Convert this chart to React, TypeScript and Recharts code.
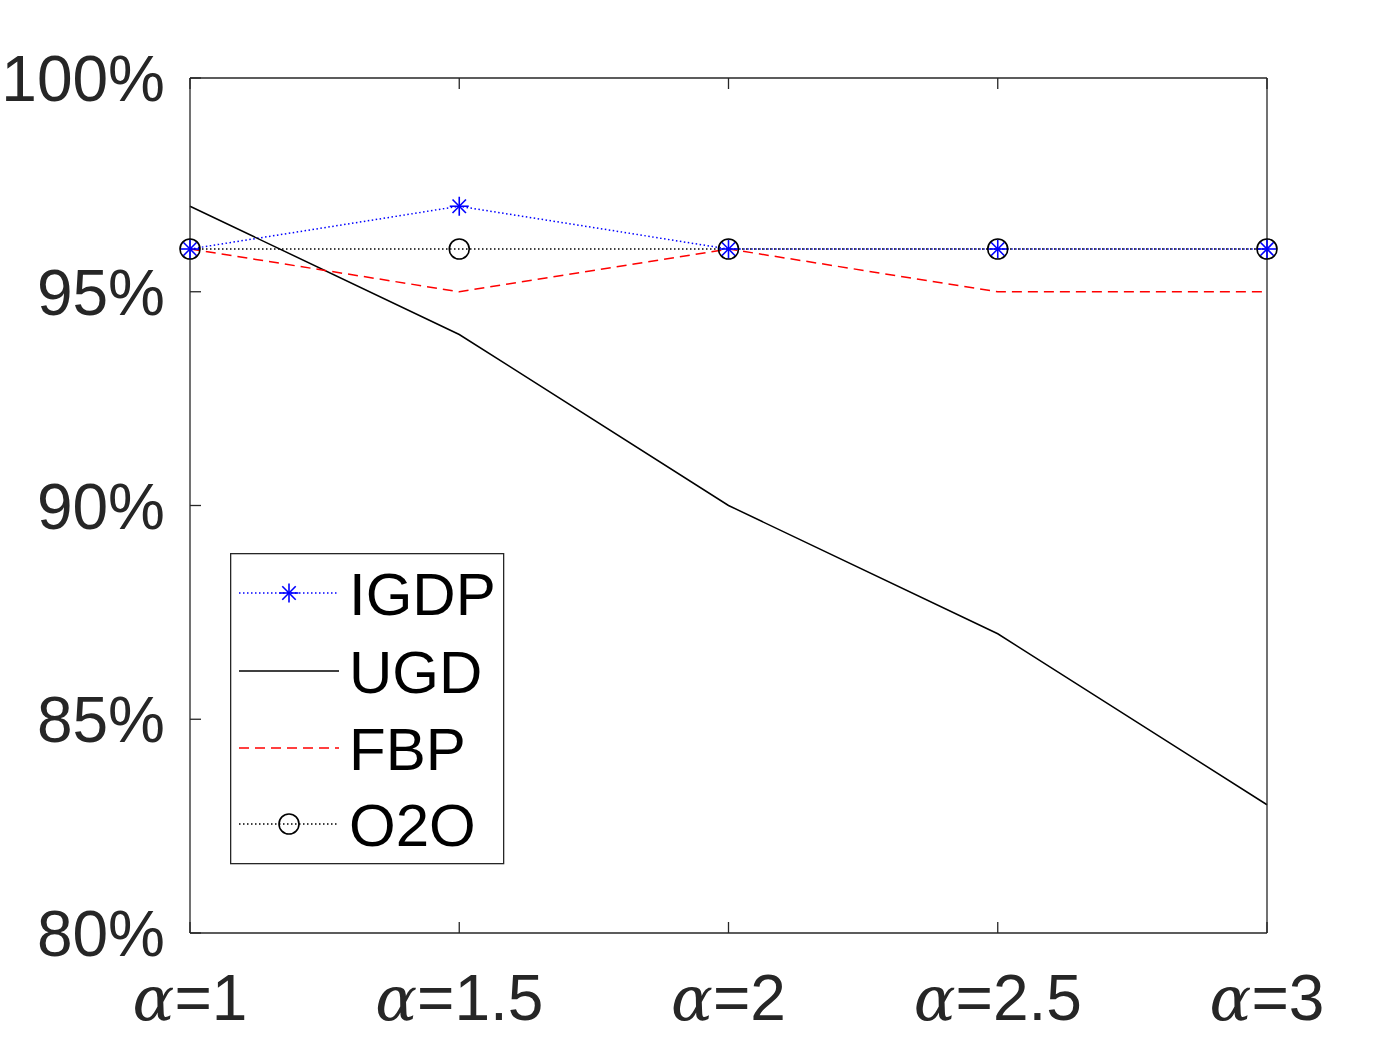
import React from 'react';
import { LineChart, Line, XAxis, YAxis, Legend } from 'recharts';

const categories = ['1', '1.5', '2', '2.5', '3'];
const igdpValues = [96, 97, 96, 96, 96];
const ugdValues = [97, 94, 90, 87, 83];
const fbpValues = [96, 95, 96, 95, 95];
const o2oValues = [96, 96, 96, 96, 96];
const yTicks = [80, 85, 90, 95, 100];
const seriesNames = ['IGDP', 'UGD', 'FBP', 'O2O'];

const data = categories.map((c, i) => ({
  alpha: c,
  IGDP: igdpValues[i],
  UGD: ugdValues[i],
  FBP: fbpValues[i],
  O2O: o2oValues[i],
}));

const AXIS = '#262626';
const SANS = '"Liberation Sans", Arial, sans-serif';
const SERIF = '"DejaVu Serif", "Liberation Serif", serif';
const TICK_LEN = 11;

type Style = { color: string; dash?: string; marker?: 'star' | 'circle' };
const styles: Record<string, Style> = {
  IGDP: { color: '#0000ff', dash: '1.5 2.5', marker: 'star' },
  UGD: { color: '#000000' },
  FBP: { color: '#ff0000', dash: '10 6' },
  O2O: { color: '#000000', dash: '1.5 2.5', marker: 'circle' },
};

const Star = ({ cx, cy, color }: { cx: number; cy: number; color: string }) => {
  const r = 9.5;
  const d = r * 0.7071;
  return (
    <g stroke={color} strokeWidth={1.6}>
      <line x1={cx - r} y1={cy} x2={cx + r} y2={cy} />
      <line x1={cx} y1={cy - r} x2={cx} y2={cy + r} />
      <line x1={cx - d} y1={cy - d} x2={cx + d} y2={cy + d} />
      <line x1={cx - d} y1={cy + d} x2={cx + d} y2={cy - d} />
    </g>
  );
};

const Circle = ({ cx, cy, color }: { cx: number; cy: number; color: string }) => (
  <circle cx={cx} cy={cy} r={10} fill="none" stroke={color} strokeWidth={1.6} />
);

const makeDot = (kind: 'star' | 'circle', color: string) => (props: any) => {
  const { cx, cy, index } = props;
  if (cx == null || cy == null) return <g key={`d-${kind}-${index}`} />;
  return kind === 'star' ? (
    <Star key={`d-${kind}-${index}`} cx={cx} cy={cy} color={color} />
  ) : (
    <Circle key={`d-${kind}-${index}`} cx={cx} cy={cy} color={color} />
  );
};

const BottomTick = (props: any) => {
  const { x, y, payload } = props;
  return (
    <g>
      <line x1={x} y1={y} x2={x} y2={y - TICK_LEN} stroke={AXIS} strokeWidth={1.3} />
      <text x={x} y={y + 87} textAnchor="middle" fill="#262626" fontSize={64} fontFamily={SANS}>
        <tspan fontFamily={SERIF} fontStyle="italic" fontSize={62}>
          α
        </tspan>
        <tspan>={payload.value}</tspan>
      </text>
    </g>
  );
};

const TopTick = (props: any) => {
  const { x, y } = props;
  return <line x1={x} y1={y} x2={x} y2={y + TICK_LEN} stroke={AXIS} strokeWidth={1.3} />;
};

const LeftTick = (props: any) => {
  const { x, y, payload } = props;
  return (
    <g>
      <line x1={x} y1={y} x2={x + TICK_LEN} y2={y} stroke={AXIS} strokeWidth={1.3} />
      <text x={x - 25} y={y} dy="0.36em" textAnchor="end" fill="#262626" fontSize={64} fontFamily={SANS}>
        {`${payload.value}%`}
      </text>
    </g>
  );
};

const RightTick = (props: any) => {
  const { x, y } = props;
  return <line x1={x} y1={y} x2={x - TICK_LEN} y2={y} stroke={AXIS} strokeWidth={1.3} />;
};

const LegendBox = () => {
  const rows = [40, 118, 195, 271];
  return (
    <svg width={275} height={312} style={{ display: 'block' }}>
      <rect x={0.65} y={0.65} width={273} height={310} fill="#fff" stroke={AXIS} strokeWidth={1.3} />
      {seriesNames.map((name, i) => {
        const s = styles[name];
        const y = rows[i];
        return (
          <g key={name}>
            <line x1={9} y1={y} x2={109} y2={y} stroke={s.color} strokeWidth={1.5} strokeDasharray={s.dash} />
            {s.marker === 'star' && <Star cx={59} cy={y} color={s.color} />}
            {s.marker === 'circle' && <Circle cx={59} cy={y} color={s.color} />}
            <text x={119} y={y} dy="0.36em" fontSize={60} fontFamily={SANS} fill="#000">
              {name}
            </text>
          </g>
        );
      })}
    </svg>
  );
};

export default function App() {
  return (
    <div style={{ position: 'absolute', left: 0, top: 0, width: 1400, height: 1050, background: '#fff' }}>
      <LineChart width={1400} height={1050} data={data} margin={{ top: 0, right: 0, bottom: 0, left: 0 }}>
        <XAxis
          xAxisId="bottom"
          dataKey="alpha"
          orientation="bottom"
          height={117}
          axisLine={{ stroke: AXIS, strokeWidth: 1.3 }}
          tickLine={false}
          tickSize={0}
          tickMargin={0}
          interval={0}
          tick={<BottomTick />}
        />
        <XAxis
          xAxisId="top"
          dataKey="alpha"
          orientation="top"
          height={78}
          axisLine={{ stroke: AXIS, strokeWidth: 1.3 }}
          tickLine={false}
          tickSize={0}
          tickMargin={0}
          interval={0}
          tick={<TopTick />}
        />
        <YAxis
          yAxisId="left"
          orientation="left"
          width={190}
          type="number"
          domain={[80, 100]}
          ticks={yTicks}
          axisLine={{ stroke: AXIS, strokeWidth: 1.3 }}
          tickLine={false}
          tickSize={0}
          tickMargin={0}
          interval={0}
          tick={<LeftTick />}
        />
        <YAxis
          yAxisId="right"
          orientation="right"
          width={133}
          type="number"
          domain={[80, 100]}
          ticks={yTicks}
          axisLine={{ stroke: AXIS, strokeWidth: 1.3 }}
          tickLine={false}
          tickSize={0}
          tickMargin={0}
          interval={0}
          tick={<RightTick />}
        />
        <Legend
          layout="vertical"
          align="center"
          verticalAlign="middle"
          content={() => <LegendBox />}
          wrapperStyle={{ position: 'absolute', left: 230, top: 553, width: 275, height: 312 }}
        />
        <Line
          xAxisId="bottom"
          yAxisId="left"
          dataKey="IGDP"
          stroke={styles.IGDP.color}
          strokeWidth={1.5}
          strokeDasharray={styles.IGDP.dash}
          dot={makeDot('star', styles.IGDP.color)}
          activeDot={false}
          isAnimationActive={false}
        />
        <Line
          xAxisId="bottom"
          yAxisId="left"
          dataKey="UGD"
          stroke={styles.UGD.color}
          strokeWidth={1.5}
          dot={false}
          activeDot={false}
          isAnimationActive={false}
        />
        <Line
          xAxisId="bottom"
          yAxisId="left"
          dataKey="FBP"
          stroke={styles.FBP.color}
          strokeWidth={1.5}
          strokeDasharray={styles.FBP.dash}
          dot={false}
          activeDot={false}
          isAnimationActive={false}
        />
        <Line
          xAxisId="bottom"
          yAxisId="left"
          dataKey="O2O"
          stroke={styles.O2O.color}
          strokeWidth={1.5}
          strokeDasharray={styles.O2O.dash}
          dot={makeDot('circle', styles.O2O.color)}
          activeDot={false}
          isAnimationActive={false}
        />
      </LineChart>
    </div>
  );
}
